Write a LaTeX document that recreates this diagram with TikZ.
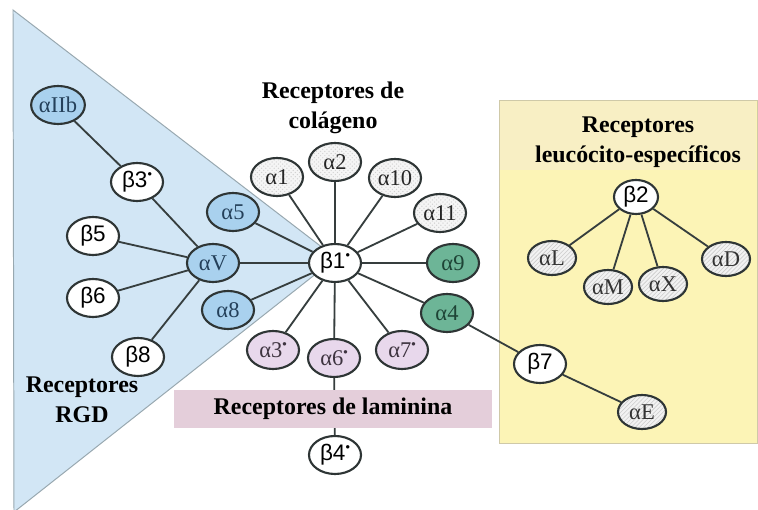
\documentclass[tikz,border=0pt]{standalone}
\usepackage{fontspec}
\setmainfont{Liberation Serif}
\newfontfamily\sansf{Liberation Sans}
\usetikzlibrary{shapes.geometric,patterns}
\definecolor{trifill}{HTML}{D2E6F5}
\definecolor{triline}{HTML}{98A8B0}
\definecolor{ndline}{HTML}{2E3535}
\definecolor{lncol}{HTML}{363E3E}
\definecolor{bluefill}{HTML}{A9D1EE}
\definecolor{bluetext}{HTML}{24405A}
\definecolor{greenfill}{HTML}{6DB597}
\definecolor{greentext}{HTML}{1E4436}
\definecolor{pinkfill}{HTML}{E8D8EC}
\definecolor{pinktext}{HTML}{3E3440}
\definecolor{lamfill}{HTML}{E4CEDA}
\definecolor{yelfill}{HTML}{FCF4B6}
\definecolor{yelhead}{HTML}{F8EFC4}
\definecolor{yelline}{HTML}{CFC9A8}
\newcommand\dt{\raisebox{0.4em}{\fontsize{9}{9}\selectfont\sansf •}}
\begin{document}
\begin{tikzpicture}[x=0.025cm,y=-0.025cm,
  nd/.style={ellipse,draw=ndline,line width=1.5pt,minimum width=1.3cm,minimum height=0.95cm,inner sep=0pt,font=\fontsize{16}{16}\selectfont},
  bnode/.style={nd,fill=white,font=\sansf\fontsize{16}{16}\selectfont},
  bluen/.style={nd,fill=bluefill,text=bluetext},
  gridn/.style={nd,preaction={fill=gray!8},pattern=crosshatch dots,pattern color=gray!35,text=black!85},
  greenn/.style={nd,fill=greenfill,text=greentext},
  pinkn/.style={nd,fill=pinkfill,text=pinktext},
  leukn/.style={nd,minimum width=1.2cm,minimum height=0.85cm,preaction={fill=gray!10},pattern=north east lines,pattern color=gray!40,text=black!80},
  ln/.style={line width=1.3pt,draw=lncol},
  ttl/.style={font=\bfseries\fontsize{17}{21}\selectfont,align=center,inner sep=0pt}]
\useasboundingbox (0,0) rectangle (758,510);
% background shapes
\fill[white] (0,0) rectangle (758,510);
\filldraw[fill=trifill,draw=triline,line width=0.7pt] (13,10) -- (336,258) -- (14,512) -- cycle;
\filldraw[fill=yelfill,draw=yelline,line width=0.7pt] (499,100) rectangle (757,443);
\fill[yelhead] (500,101) rectangle (756,170);
% nodes
\node[bluen] (aIIb) at (58,105) {αIIb};
\node[bnode] (b3) at (137,182) {β3\dt};
\node[bnode] (b5) at (93,236) {β5};
\node[bluen] (a5) at (233,212) {α5};
\node[bluen] (aV) at (213,263) {αV};
\node[bnode] (b6) at (93,298) {β6};
\node[bluen] (a8) at (228,310) {α8};
\node[bnode] (b8) at (138,357) {β8};
\node[bnode] (b1) at (335,263) {β1\dt};
\node[gridn] (a1) at (277,177) {α1};
\node[gridn] (a2) at (335,162) {α2};
\node[gridn] (a10) at (395,178) {α10};
\node[gridn] (a11) at (440,213) {α11};
\node[greenn] (a9) at (453,263) {α9};
\node[greenn] (a4) at (447,313) {α4};
\node[pinkn] (a7) at (402,350) {α7\dt};
\node[pinkn] (a6) at (334,358) {α6\dt};
\node[pinkn] (a3) at (273,350) {α3\dt};
\node[bnode] (b4) at (335,455) {β4\dt};
\node[bnode] (b7) at (540,364) {β7};
\node[leukn] (aE) at (642,412) {αE};
\node[bnode,minimum width=1.1cm,minimum height=0.85cm] (b2) at (636,197) {β2};
\node[leukn] (aL) at (552,258) {αL};
\node[leukn] (aM) at (608,287) {αM};
\node[leukn] (aX) at (663,284) {αX};
\node[leukn] (aD) at (726,259) {αD};
% connectors
\draw[ln] (a6) -- (b4);
\node[fill=lamfill,minimum width=7.95cm,minimum height=0.95cm,inner sep=0pt] (lambox) at (333,409) {};
\node[ttl] (lamt) at (lambox) {Receptores de laminina};
\foreach \a/\b in {aIIb/b3,b3/aV,b5/aV,b6/aV,b8/aV,aV/b1,a5/b1,a8/b1,b1/a1,b1/a2,b1/a10,b1/a11,b1/a9,b1/a4,b1/a7,b1/a6,b1/a3,a4/b7,b7/aE,b2/aL,b2/aM,b2/aX,b2/aD}
  \draw[ln] (\a) -- (\b);
% titles
\node[ttl] (tcol) at (333,108) {Receptores de\\colágeno};
\node[ttl] (tleu) at (638,142) {Receptores\\leucócito-específicos};
\node[ttl] (trgd) at (82,400) {Receptores\\RGD};
\end{tikzpicture}
\end{document}
